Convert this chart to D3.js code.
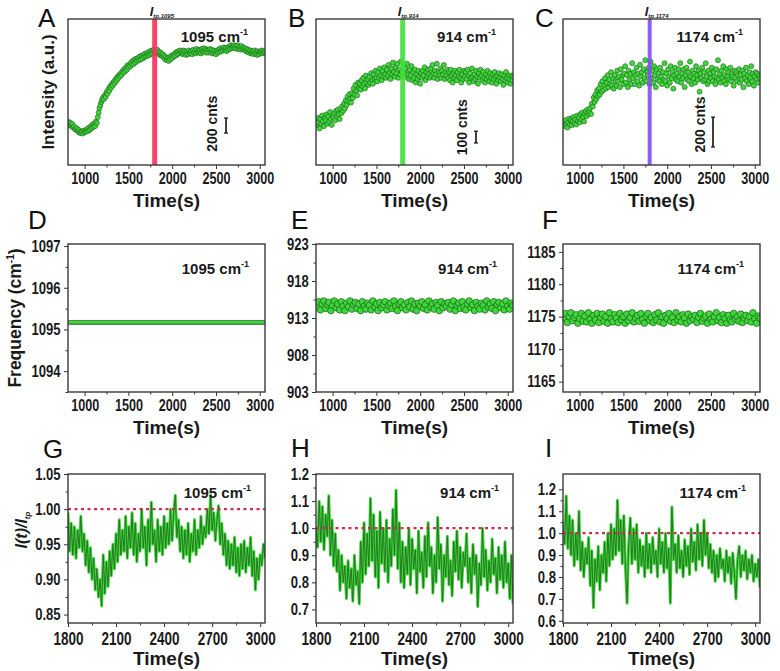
<!DOCTYPE html>
<html><head><meta charset="utf-8">
<script src="https://cdn.jsdelivr.net/npm/d3@7"></script>
<style>
body{margin:0;background:#fff}
svg{font-family:"Liberation Sans",Arial,sans-serif}
.tk text{font-weight:bold;fill:#1a1a1a;transform-box:fill-box;transform-origin:center;transform:scale(0.9,1.22)}
.tk.ys text{transform:scale(0.9,1.12)}
.tk line,.mn line{stroke:#333}
</style></head><body>
<svg id="c" width="780" height="671"></svg>
<script>
// ---------- DATA ----------
// Top row: Raman intensity (counts), sampled every 10 s from 820 s
const topStart = 820, topStep = 10;
const intensity1095 = [
575,530,560,520,545,500,515,480,470,490, 455,470,430,450,425,445,420,460,440,465,
445,480,455,500,470,515,490,540,510,555, 520,580,560,640,700,760,800,840,870,900,
880,930,910,970,950,1010,990,1050,1030,1080, 1060,1110,1090,1140,1120,1170,1150,1200,1180,1220,
1200,1250,1230,1280,1250,1300,1270,1330,1300,1340, 1320,1370,1340,1390,1350,1410,1370,1420,1390,1430,
1400,1450,1410,1460,1420,1470,1440,1490,1450,1480, 1460,1510,1470,1520,1480,1530,1490,1540,1500,1520,
1490,1540,1500,1510,1470,1500,1460,1480,1440,1460, 1410,1440,1400,1430,1390,1440,1410,1460,1430,1470,
1450,1490,1460,1510,1480,1520,1490,1530,1500,1510, 1480,1530,1490,1520,1470,1510,1480,1530,1500,1490,
1520,1480,1540,1500,1530,1490,1550,1510,1530,1500, 1540,1490,1550,1510,1560,1520,1550,1500,1540,1530,
1500,1550,1510,1540,1490,1530,1500,1520,1480,1530, 1500,1540,1510,1560,1520,1550,1530,1570,1540,1560,
1520,1570,1540,1580,1550,1600,1560,1590,1570,1600, 1560,1590,1550,1600,1560,1580,1540,1590,1550,1570,
1540,1560,1520,1550,1510,1540,1500,1530,1490,1510, 1520,1480,1530,1490,1510,1470,1520,1480,1510,1500,
1530,1490,1520,1500,1510];
const intensity914 = [
340,400,360,310,390,350,420,370,330,400, 380,430,350,410,370,450,390,340,420,400,
440,380,460,410,470,430,390,480,440,500, 460,520,480,550,510,580,540,600,560,530,
610,570,650,600,680,630,590,700,650,690, 640,720,670,740,690,650,760,700,730,680,
750,700,780,720,690,770,730,800,740,710, 790,740,820,760,720,800,750,830,770,740,
810,760,850,780,730,820,770,870,790,750, 830,780,860,740,810,770,880,790,750,840,
780,820,750,860,770,730,810,760,840,720, 790,740,810,700,770,730,800,750,690,780,
740,800,760,830,720,790,750,810,770,740, 820,760,850,780,740,800,770,860,730,790,
760,820,740,800,770,850,730,790,760,810, 740,790,720,810,760,700,780,740,800,760,
720,790,750,810,740,700,770,730,800,750, 790,730,810,760,700,780,740,820,750,710,
770,730,800,750,690,780,740,810,760,720, 790,740,700,770,730,800,750,710,780,740,
700,770,730,790,750,690,760,720,780,740, 710,770,730,680,760,720,790,740,700,760,
730,690,760,720,750];
const intensity1174 = [
290,260,300,275,250,285,310,270,300,265, 290,320,280,305,270,330,295,315,285,340,
305,350,320,290,340,360,325,370,340,355, 380,340,410,390,450,420,470,440,500,460,
510,470,540,490,560,500,530,580,510,550, 600,520,570,540,620,530,580,510,600,560,
530,630,560,590,520,640,570,600,540,610, 660,550,600,520,630,570,610,540,680,580,
620,540,600,650,560,610,530,670,590,620, 550,640,580,700,560,620,600,650,540,690,
580,630,550,660,600,520,640,570,610,560, 650,590,540,620,570,680,560,610,530,640,
590,550,660,580,620,510,600,650,570,610, 560,640,590,680,550,610,580,640,520,600,
650,570,620,560,690,590,540,630,580,610, 550,660,600,570,630,490,610,580,650,560,
620,570,680,590,540,630,560,610,580,650, 560,620,590,540,640,580,700,570,610,550,
630,580,660,560,600,540,640,590,620,570, 650,560,610,590,530,630,580,620,560,600,
640,550,600,570,630,520,610,580,650,560, 600,540,620,580,660,560,610,530,590,620,
570,610,550,600,580];

// Middle row: peak frequency (cm-1)
const freqStartD = 810, freqStepD = 250;
const freq1095 = [1095.17,1095.17,1095.17,1095.17,1095.17,1095.17,1095.17,1095.17,1095.17,1095.17];
const freqStart = 820, freqStep = 20;
const freq914 = [
914.6,915.2,914.1,914.9,915.3,914.3,914.8,915.1,914.0,914.7, 915.3,914.4,914.9,914.1,915.2,914.6,914.0,915.0,914.5,915.3,
914.2,914.8,915.1,914.3,914.9,914.0,915.2,914.6,914.2,915.0, 914.7,914.1,915.3,914.5,914.9,914.0,915.1,914.4,914.8,915.2,
914.1,914.7,915.0,914.3,915.3,914.6,914.0,914.9,915.2,914.4, 914.8,914.1,915.1,914.5,915.3,914.2,914.9,914.0,915.0,914.6,
915.2,914.3,914.8,914.1,915.3,914.5,914.9,914.2,915.1,914.7, 914.0,915.2,914.4,914.9,914.6,915.1,914.2,914.8,915.3,914.0,
914.7,915.0,914.3,915.2,914.5,914.1,914.9,915.3,914.4,914.8, 914.0,915.1,914.6,914.2,915.0,914.7,914.1,915.3,914.5,914.9,
914.3,915.2,914.0,914.8,915.1,914.4,914.9,914.1,915.3,914.6, 914.2,915.0,914.7];
const freq1174 = [
1174.8,1175.5,1174.1,1175.0,1175.6,1174.4,1174.9,1175.3,1174.0,1174.7, 1175.5,1174.3,1175.1,1174.2,1175.6,1174.6,1174.0,1175.2,1174.5,1175.5,
1174.1,1174.9,1175.4,1174.3,1175.0,1174.0,1175.6,1174.7,1174.2,1175.3, 1174.8,1174.1,1175.5,1174.5,1175.0,1174.0,1175.4,1174.4,1174.9,1175.6,
1174.2,1174.8,1175.2,1174.3,1175.5,1174.6,1174.0,1175.1,1175.5,1174.4, 1174.9,1174.1,1175.3,1174.5,1175.6,1174.2,1175.0,1174.0,1175.2,1174.7,
1175.5,1174.3,1174.9,1174.1,1175.6,1174.5,1175.0,1174.2,1175.3,1174.8, 1174.0,1175.4,1174.4,1175.0,1174.6,1175.2,1174.1,1174.9,1175.5,1174.3,
1174.8,1175.1,1174.0,1175.4,1174.6,1174.2,1175.0,1175.6,1174.4,1174.9, 1174.1,1175.3,1174.7,1174.0,1175.2,1174.5,1174.2,1175.5,1174.6,1175.0,
1174.3,1175.4,1174.1,1174.8,1175.2,1174.4,1175.0,1174.2,1175.6,1174.7, 1174.0,1175.1,1174.8];

// Bottom row: I(t)/I_tp, every 10 s from 1800 s
const ratioStart = 1800, ratioStep = 10;
const ratio1095 = [0.995,0.94,0.98,0.935,0.975,0.93,0.97,0.945,0.99,0.94,0.965,0.92,0.955,0.91,0.945,0.90,
0.93,0.885,0.915,0.875,0.90,0.862,0.935,0.88,0.925,0.89,0.94,0.905,0.95,0.915,0.965,0.925,0.985,0.935,0.97,
0.94,0.99,0.93,0.975,0.945,0.995,0.935,0.98,0.925,0.965,0.94,1.00,0.945,0.975,0.92,0.985,0.94,1.01,0.95,
0.97,0.925,0.985,0.94,0.975,0.935,0.99,0.945,0.98,0.95,1.00,0.955,0.995,1.02,0.96,0.985,0.94,0.975,0.93,
0.97,0.935,0.98,0.925,0.965,0.94,0.985,0.935,0.97,0.945,0.99,0.95,0.975,0.96,1.00,0.965,1.02,0.97,0.995,
0.955,0.985,1.005,0.95,0.98,0.935,0.965,0.92,0.955,0.915,0.95,0.92,0.96,0.91,0.945,0.905,0.95,0.915,0.955,
0.91,0.945,0.92,0.96,0.905,0.94,0.885,0.93,0.90,0.935,0.92,0.95,0.93];
const ratio914 = [1.0,0.93,1.10,0.95,1.08,0.92,1.05,0.97,1.12,0.90,1.03,0.86,0.98,0.84,0.92,0.77,0.90,0.80,
0.86,0.74,0.88,0.78,0.85,0.73,0.90,0.79,0.84,0.72,0.95,0.80,1.02,0.83,0.98,0.86,1.11,0.88,1.05,0.82,0.99,
0.78,1.06,0.87,1.0,0.84,1.03,0.80,0.96,0.86,1.07,0.90,1.14,0.85,1.02,0.80,0.95,0.78,0.93,0.83,1.0,0.79,
0.96,0.85,0.92,0.76,0.99,0.84,0.91,0.78,0.97,0.82,1.02,0.86,0.93,0.76,0.90,0.80,1.04,0.85,0.94,0.73,0.90,
0.82,0.97,0.79,0.88,0.75,0.95,0.84,0.99,0.81,0.93,0.78,0.91,0.86,0.98,0.80,0.89,0.76,0.94,0.83,0.90,0.71,
0.87,0.79,1.0,0.82,0.92,0.77,0.88,0.80,0.96,0.83,0.89,0.76,0.93,0.81,0.90,0.78,0.95,0.80,0.87,0.74,0.90,0.72];
const ratio1174 = [1.05,0.95,1.17,0.93,1.08,0.90,1.06,0.85,1.0,0.88,1.10,0.83,0.96,0.80,0.93,0.86,0.98,0.76,
0.92,0.66,0.88,0.78,0.94,0.74,0.90,0.82,0.96,0.78,1.0,0.85,1.04,0.88,1.02,0.90,1.15,0.92,1.06,0.86,1.08,
0.84,0.68,0.95,1.07,0.86,1.02,0.88,1.04,0.82,0.97,0.85,0.94,0.80,1.0,0.84,0.95,0.82,0.98,0.86,0.92,0.80,
1.02,0.86,0.96,0.82,1.0,0.84,0.93,0.68,1.12,0.88,0.95,0.82,0.99,0.84,0.92,0.80,0.97,0.85,0.94,0.81,1.02,
0.87,0.96,0.83,1.04,0.88,1.0,0.85,1.06,0.90,1.0,0.84,0.95,0.82,0.92,0.78,0.90,0.80,0.93,0.84,0.88,0.78,
0.92,0.82,0.89,0.77,0.91,0.82,0.70,0.88,0.94,0.80,0.90,0.83,0.92,0.79,0.88,0.82,0.90,0.78,0.86,0.80,0.88,0.75];

const bands = ["1095","914","1174"];
const topTicks = [1000,1500,2000,2500,3000], topMinor = [1250,1750,2250,2750];
const botTicks = [1800,2100,2400,2700,3000], botMinor = [1950,2250,2550,2850];

// ---------- LAYOUT ----------
const W = 197;
const colX = [68, 316, 563];
const rowY = [19, 244, 474];
const rowH = [146, 148, 149];
const GREEN = "#3fd83a", DARK = "#1b5c1b";
const svg = d3.select("#c");
let cid = 0;

function panel(c, r){ return svg.append("g").attr("transform", `translate(${colX[c]},${rowY[r]})`); }
function clipped(g, h){
  const id = "cl" + (cid++);
  g.append("clipPath").attr("id", id).append("rect").attr("width", W).attr("height", h);
  return g.append("g").attr("clip-path", `url(#${id})`);
}
function frame(g, h){
  g.append("rect").attr("width", W).attr("height", h).attr("fill","none").attr("stroke","#3a3a3a").attr("stroke-width",1.4);
}
function xAxis(g, x, h, major, minor, fs, ty){
  g.append("g").attr("class","mn").attr("transform",`translate(0,${h})`)
    .call(d3.axisBottom(x).tickValues(minor).tickSize(2.5).tickFormat(""))
    .call(s => s.select(".domain").remove());
  const a = g.append("g").attr("class","tk").attr("transform",`translate(0,${h})`)
    .call(d3.axisBottom(x).tickValues(major).tickSize(4).tickFormat(d3.format("d")));
  a.select(".domain").remove();
  a.selectAll("text").attr("y", ty).style("font-size", fs + "px").attr("font-family", null);
}
function yAxis(g, y, major, minor, fmt, fs){
  g.append("g").attr("class","mn")
    .call(d3.axisLeft(y).tickValues(minor).tickSize(2.5).tickFormat(""))
    .call(s => s.select(".domain").remove());
  const a = g.append("g").attr("class","tk ys")
    .call(d3.axisLeft(y).tickValues(major).tickSize(4).tickPadding(2).tickFormat(fmt));
  a.select(".domain").remove();
  a.selectAll("text").style("font-size", fs + "px").attr("font-family", null);
}
function waveLabel(g, xEnd, yBase, num, size){
  const t = g.append("text").attr("x", xEnd).attr("y", yBase).attr("text-anchor","end")
    .attr("font-weight","bold").attr("font-size", size).attr("fill","#1a1a1a");
  t.append("tspan").text(num + " cm");
  t.append("tspan").attr("dy", -size*0.45).attr("font-size", size*0.6).text("-1");
}
function timeTitle(g, h){
  g.append("text").attr("x", W/2).attr("y", h + 42).attr("text-anchor","middle")
    .attr("font-weight","bold").attr("font-size", 19).attr("fill","#1a1a1a").text("Time(s)");
}
function letter(x, y, s){
  svg.append("text").attr("x", x).attr("y", y).attr("font-size", 26).attr("fill","#111").text(s);
}

// ---------- TOP ROW ----------
const topSeries = [intensity1095, intensity914, intensity1174];
const topMax = [1950, 1240, 975];
const lineColors = ["#f7355e", "#45e03c", "#8752f2"];
const bars = [
  {t: 2615, from: 427, len: 200, text: "200 cnts", tx: 2440},
  {t: 2637, from: 187, len: 100, text: "100 cnts", tx: 2465},
  {t: 2523, from: 120, len: 200, text: "200 cnts", tx: 2365}
];
const barTextY = [550, 320, 270];
topSeries.forEach((vals, c) => {
  const h = rowH[0];
  const g = panel(c, 0);
  const x = d3.scaleLinear().domain([810, 3060]).range([0, W]);
  const y = d3.scaleLinear().domain([0, topMax[c]]).range([h, 0]);
  const inner = clipped(g, h);
  inner.selectAll("circle").data(vals).join("circle")
    .attr("cx", (d,i) => x(topStart + topStep*i)).attr("cy", d => y(d)).attr("r", 2.5)
    .attr("fill", GREEN).attr("stroke", DARK).attr("stroke-width", 0.6);
  inner.append("line").attr("x1", x(1800)).attr("x2", x(1800)).attr("y1", 0).attr("y2", h)
    .attr("stroke", lineColors[c]).attr("stroke-width", c === 2 ? 4 : 5).attr("opacity", 0.92);
  const b = bars[c];
  g.append("line").attr("x1", x(b.t)).attr("x2", x(b.t)).attr("y1", y(b.from)).attr("y2", y(b.from + b.len))
    .attr("stroke","#111").attr("stroke-width",1.6);
  [b.from, b.from + b.len].forEach(v => g.append("line").attr("x1", x(b.t)-2).attr("x2", x(b.t)+2)
    .attr("y1", y(v)).attr("y2", y(v)).attr("stroke","#111").attr("stroke-width",1.2));
  g.append("text").attr("transform", `translate(${x(b.tx)+6},${y(barTextY[c])}) rotate(-90)`)
    .attr("text-anchor","middle").attr("font-weight","bold").attr("font-size",14).attr("fill","#1a1a1a").text(b.text);
  const lab = g.append("text").attr("x", x(1800) - 5).attr("y", -3).attr("font-weight","bold").attr("fill","#1a1a1a");
  lab.append("tspan").attr("font-style","italic").attr("font-size",13).text("I");
  lab.append("tspan").attr("font-size",6).attr("dy",2).attr("font-style","italic").text("tp," + bands[c]);
  xAxis(g, x, h, topTicks, topMinor, 14, 8);
  frame(g, h);
  waveLabel(g, W - 17, 23, bands[c], 15);
  timeTitle(g, h);
});

// ---------- MIDDLE ROW ----------
const midDomains = [[1093.5, 1097.05], [903, 923], [1163.4, 1186.2]];
const midTicks = [[1094,1095,1096,1097], [903,908,913,918,923], [1165,1170,1175,1180,1185]];
const midMinor = [[1093.5,1094.5,1095.5,1096.5], [905.5,910.5,915.5,920.5], [1167.5,1172.5,1177.5,1182.5]];
[0,1,2].forEach(c => {
  const h = rowH[1];
  const g = panel(c, 1);
  const x = d3.scaleLinear().domain([810, 3060]).range([0, W]);
  const y = d3.scaleLinear().domain(midDomains[c]).range([h, 0]);
  const inner = clipped(g, h);
  if (c === 0) {
    const ln = d3.line().x((d,i) => x(freqStartD + freqStepD*i)).y(d => y(d));
    inner.append("path").attr("d", ln(freq1095)).attr("fill","none").attr("stroke", DARK).attr("stroke-width", 4.5);
    inner.append("path").attr("d", ln(freq1095)).attr("fill","none").attr("stroke", GREEN).attr("stroke-width", 2.6);
  } else {
    const vals = c === 1 ? freq914 : freq1174;
    inner.selectAll("circle").data(vals).join("circle")
      .attr("cx", (d,i) => x(freqStart + freqStep*i)).attr("cy", d => y(d)).attr("r", 3.3)
      .attr("fill", GREEN).attr("stroke", DARK).attr("stroke-width", 0.7);
  }
  xAxis(g, x, h, topTicks, topMinor, 14, 8);
  yAxis(g, y, midTicks[c], midMinor[c], d3.format("d"), 14.5);
  frame(g, h);
  waveLabel(g, W - 16, 30, bands[c], 15);
  timeTitle(g, h);
});

// ---------- BOTTOM ROW ----------
const botSeries = [ratio1095, ratio914, ratio1174];
const botDomains = [[0.838, 1.05], [0.65, 1.2], [0.59, 1.27]];
const botTicks_y = [[0.85,0.90,0.95,1.00,1.05], [0.7,0.8,0.9,1.0,1.1,1.2], [0.6,0.7,0.8,0.9,1.0,1.1,1.2]];
const botMinor_y = [[0.875,0.925,0.975,1.025], [0.75,0.85,0.95,1.05,1.15], [0.65,0.75,0.85,0.95,1.05,1.15]];
const botFmt = [d3.format(".2f"), d3.format(".1f"), d3.format(".1f")];
botSeries.forEach((vals, c) => {
  const h = rowH[2];
  const g = panel(c, 2);
  const x = d3.scaleLinear().domain([1800, 3030]).range([0, W]);
  const y = d3.scaleLinear().domain(botDomains[c]).range([h, 0]);
  const inner = clipped(g, h);
  const ln = d3.line().x((d,i) => x(ratioStart + ratioStep*i)).y(d => y(d));
  inner.append("path").attr("d", ln(vals)).attr("fill","none").attr("stroke", GREEN).attr("stroke-width", 2.9).attr("stroke-linejoin","round");
  inner.append("path").attr("d", ln(vals)).attr("fill","none").attr("stroke", "#256e21").attr("stroke-width", 0.9).attr("stroke-linejoin","round");
  inner.append("line").attr("x1", 0).attr("x2", W).attr("y1", y(1)).attr("y2", y(1))
    .attr("stroke","#d02a55").attr("stroke-width",2.2).attr("stroke-dasharray","3,3.5");
  xAxis(g, x, h, botTicks, botMinor, 15, 10);
  yAxis(g, y, botTicks_y[c], botMinor_y[c], botFmt[c], 14.5);
  frame(g, h);
  waveLabel(g, W - 14, 24, bands[c], 15);
  timeTitle(g, h);
});

// ---------- Y TITLES & LETTERS ----------
svg.append("text").attr("transform","translate(54,92) rotate(-90)").attr("text-anchor","middle")
  .attr("font-weight","bold").attr("font-size",17).attr("fill","#1a1a1a").text("Intensity (a.u.)");
const fq = svg.append("text").attr("transform","translate(21,318) rotate(-90)").attr("text-anchor","middle")
  .attr("font-weight","bold").attr("font-size",17.5).attr("fill","#1a1a1a");
fq.append("tspan").text("Frequency (cm");
fq.append("tspan").attr("dy",-7).attr("font-size",10).text("-1");
fq.append("tspan").attr("dy",7).text(")");
const rt = svg.append("text").attr("transform","translate(27,530) rotate(-90)").attr("text-anchor","middle")
  .attr("font-weight","bold").attr("font-style","italic").attr("font-size",16).attr("fill","#1a1a1a");
rt.append("tspan").text("I(t)/I");
rt.append("tspan").attr("font-size",8).attr("dy",3).text("tp");

letter(38, 27, "A"); letter(288, 27, "B"); letter(535, 27, "C");
letter(28, 229, "D"); letter(291, 229, "E"); letter(542, 229, "F");
letter(43, 458, "G"); letter(291, 457, "H"); letter(545, 457, "I");
</script>
</body></html>
